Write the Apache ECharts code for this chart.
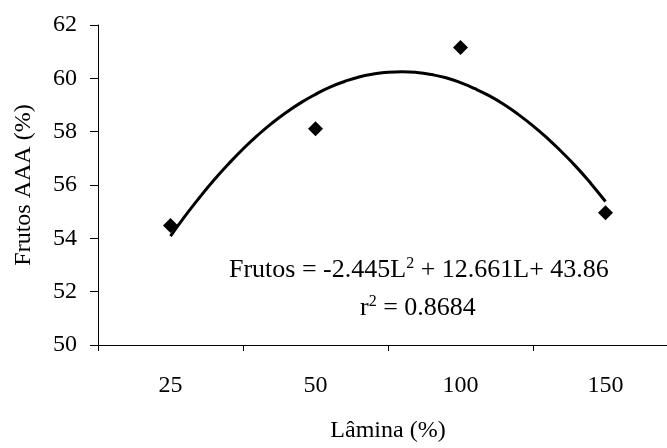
<!DOCTYPE html>
<html>
<head>
<meta charset="utf-8">
<script src="https://cdn.jsdelivr.net/npm/echarts@6/dist/echarts.min.js"></script>
<style>html,body{margin:0;padding:0;background:#fff;overflow:hidden;width:667px;height:448px}#c{width:700px;height:448px}</style>
</head>
<body>
<div id="c"></div>
<script>
const categories = ['25', '50', '100', '150'];
const observed = [54.48, 58.11, 61.16, 54.96];
const curveL = [1.0, 1.1, 1.2, 1.3, 1.4, 1.5, 1.6, 1.7, 1.8, 1.9, 2.0, 2.1, 2.2, 2.3, 2.4, 2.5,
                2.6, 2.7, 2.8, 2.9, 3.0, 3.1, 3.2, 3.3, 3.4, 3.5, 3.6, 3.7, 3.8, 3.9, 4.0];
const curveValues = [54.08, 54.83, 55.53, 56.19, 56.79, 57.35, 57.86, 58.32, 58.73, 59.09, 59.40,
                     59.67, 59.88, 60.05, 60.16, 60.23, 60.25, 60.22, 60.14, 60.02, 59.84, 59.61,
                     59.34, 59.02, 58.64, 58.22, 57.75, 57.23, 56.67, 56.05, 55.38];
const yTicks = [50, 52, 54, 56, 58, 60, 62];

const FONT = 'Liberation Serif';
const chart = echarts.init(document.getElementById('c'), null, {renderer: 'canvas'});
chart.setOption({
  backgroundColor: '#fff',
  animation: false,
  grid: {left: 98, top: 25, width: 580, height: 324, containLabel: false},
  xAxis: [{
    type: 'category',
    data: categories,
    boundaryGap: true,
    name: 'Lâmina (%)',
    nameLocation: 'middle',
    nameGap: 74,
    nameTextStyle: {fontFamily: FONT, fontSize: 24, color: '#000'},
    axisLine: {lineStyle: {color: '#000', width: 1}},
    axisTick: {show: true, length: 6, alignWithLabel: false, lineStyle: {color: '#000'}},
    axisLabel: {fontFamily: FONT, fontSize: 24, color: '#000', margin: 29},
    splitLine: {show: false}
  }, {
    type: 'value',
    min: 0.5,
    max: 4.5,
    show: false
  }],
  yAxis: {
    type: 'value',
    min: yTicks[0],
    max: yTicks[yTicks.length - 1],
    interval: 2,
    name: 'Frutos AAA (%)',
    nameLocation: 'middle',
    nameGap: 62,
    nameTextStyle: {fontFamily: FONT, fontSize: 24, color: '#000'},
    axisLine: {show: true, lineStyle: {color: '#000', width: 1}},
    axisTick: {show: true, length: 8, lineStyle: {color: '#000'}},
    axisLabel: {fontFamily: FONT, fontSize: 24, color: '#000', margin: 21},
    splitLine: {show: false}
  },
  series: [{
    type: 'line',
    xAxisIndex: 1,
    data: curveL.map((l, i) => [l, curveValues[i]]),
    smooth: true,
    showSymbol: false,
    lineStyle: {color: '#000', width: 3},
    z: 2
  }, {
    type: 'scatter',
    xAxisIndex: 0,
    data: observed,
    symbol: 'diamond',
    symbolSize: 15,
    itemStyle: {color: '#000', opacity: 1},
    z: 3
  }],
  graphic: [{
    type: 'text',
    left: 229,
    top: 256,
    style: {
      text: '{n|Frutos = -2.445L}{s|2}{n| + 12.661L+ 43.86}',
      rich: {
        n: {fontFamily: FONT, fontSize: 26, fill: '#000'},
        s: {fontFamily: FONT, fontSize: 16, fill: '#000', padding: [0, 0, 12, 0]}
      }
    }
  }, {
    type: 'text',
    left: 360,
    top: 294,
    style: {
      text: '{n|r}{s|2}{n| = 0.8684}',
      rich: {
        n: {fontFamily: FONT, fontSize: 26, fill: '#000'},
        s: {fontFamily: FONT, fontSize: 16, fill: '#000', padding: [0, 0, 12, 0]}
      }
    }
  }]
});
</script>
</body>
</html>
